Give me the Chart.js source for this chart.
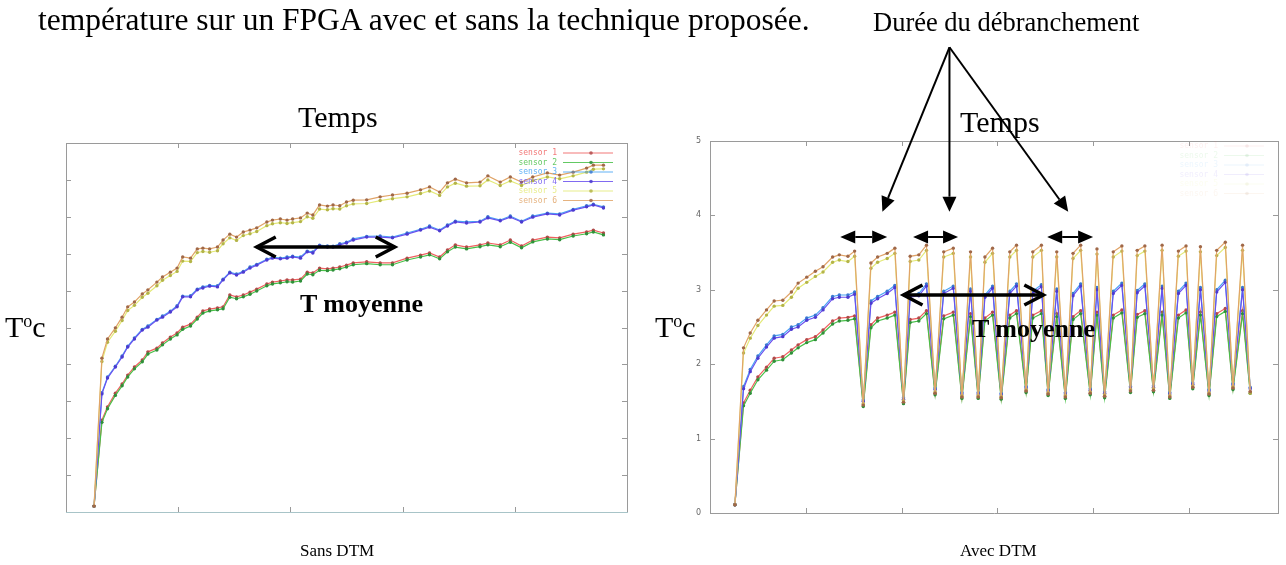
<!DOCTYPE html>
<html>
<head>
<meta charset="utf-8">
<script src="https://cdn.jsdelivr.net/npm/chart.js@4.4.1/dist/chart.umd.min.js"></script>
<style>
  body { margin: 0; background: #fff; width: 1286px; height: 565px; overflow: hidden; position: relative;
         font-family: "Liberation Serif", "Times New Roman", serif; color: #000; }
  canvas { position: absolute; top: 0; filter: blur(0.4px); }
  #chartL { left: 0; }
  #chartR { left: 640px; }
  .t { position: absolute; white-space: nowrap; line-height: 1; }
  .b { font-weight: bold; }
  sup { font-size: 0.6em; vertical-align: 0.55em; line-height: 0; }
</style>
</head>
<body>
<canvas id="chartL" width="640" height="565"></canvas>
<canvas id="chartR" width="646" height="565"></canvas>

<div class="t" style="left:38px;top:4px;font-size:31.5px">température sur un FPGA avec et sans la technique proposée.</div>
<div class="t" style="left:873px;top:9px;font-size:26.5px">Durée du débranchement</div>
<div class="t" style="left:298px;top:102px;font-size:30px">Temps</div>
<div class="t" style="left:960px;top:107px;font-size:30px">Temps</div>
<div class="t" style="left:5px;top:312px;font-size:30px">T<sup>o</sup>c</div>
<div class="t" style="left:655px;top:312px;font-size:30px">T<sup>o</sup>c</div>
<div class="t b" style="left:300px;top:291px;font-size:26px">T moyenne</div>
<div class="t b" style="left:972px;top:316px;font-size:26px">T moyenne</div>
<div class="t" style="left:300px;top:542px;font-size:17px">Sans DTM</div>
<div class="t" style="left:960px;top:542px;font-size:17px">Avec DTM</div>

<script>
// ---- data: "Sans DTM" (left) ----
const timeL = [0.25,0.32,0.37,0.44,0.50,0.55,0.61,0.68,0.73,0.81,0.86,0.93,0.99,1.04,1.11,1.17,1.22,1.28,1.35,1.40,
  1.46,1.52,1.58,1.64,1.70,1.79,1.84,1.91,1.97,2.02,2.09,2.15,2.20,2.26,2.33,2.38,2.44,2.50,2.56,2.68,
  2.80,2.91,3.04,3.16,3.24,3.33,3.40,3.47,3.57,3.69,3.76,3.87,3.96,4.06,4.16,4.29,4.40,4.52,4.64,4.70,4.79];
const s1L = [0.16,2.49,2.85,3.22,3.47,3.71,3.93,4.12,4.34,4.44,4.58,4.74,4.85,5.01,5.09,5.28,5.45,5.50,5.53,5.56,
  5.88,5.83,5.88,5.96,6.04,6.18,6.23,6.26,6.29,6.29,6.31,6.50,6.48,6.61,6.59,6.61,6.64,6.69,6.75,6.78,
  6.75,6.75,6.88,6.96,7.02,6.91,7.10,7.24,7.18,7.24,7.29,7.24,7.37,7.21,7.37,7.45,7.43,7.53,7.59,7.64,7.56];
const s2L = [0.16,2.43,2.80,3.16,3.42,3.66,3.88,4.07,4.28,4.39,4.53,4.69,4.80,4.95,5.04,5.23,5.39,5.45,5.48,5.51,
  5.82,5.78,5.83,5.90,5.99,6.13,6.18,6.21,6.24,6.23,6.26,6.45,6.43,6.55,6.54,6.56,6.59,6.64,6.70,6.73,
  6.70,6.70,6.83,6.91,6.97,6.86,7.05,7.18,7.13,7.19,7.24,7.19,7.31,7.16,7.32,7.40,7.38,7.48,7.54,7.59,7.51];
const s3L = [0.16,3.23,3.66,3.95,4.23,4.49,4.72,4.95,5.04,5.22,5.31,5.44,5.59,5.85,5.86,6.04,6.10,6.14,6.13,6.31,
  6.50,6.45,6.52,6.64,6.71,6.85,6.91,6.88,6.91,6.93,6.91,7.07,7.05,7.23,7.21,7.20,7.27,7.31,7.40,7.47,
  7.48,7.45,7.56,7.66,7.75,7.64,7.78,7.88,7.86,7.88,8.00,7.91,8.02,7.88,8.02,8.10,8.08,8.20,8.30,8.34,8.27];
const s4L = [0.16,3.20,3.63,3.93,4.20,4.47,4.69,4.93,5.01,5.20,5.28,5.42,5.56,5.83,5.83,6.02,6.07,6.12,6.10,6.29,
  6.48,6.42,6.50,6.61,6.69,6.83,6.88,6.86,6.88,6.91,6.88,7.05,7.02,7.21,7.18,7.18,7.24,7.29,7.37,7.45,
  7.45,7.43,7.53,7.64,7.72,7.62,7.75,7.86,7.83,7.86,7.97,7.89,7.99,7.86,7.99,8.08,8.05,8.18,8.27,8.32,8.24];
const s5L = [0.16,4.08,4.60,4.90,5.19,5.46,5.60,5.82,5.93,6.13,6.28,6.41,6.52,6.80,6.79,7.03,7.06,7.04,7.08,7.27,
  7.43,7.36,7.49,7.54,7.60,7.76,7.81,7.84,7.82,7.84,7.87,8.00,7.96,8.21,8.19,8.22,8.21,8.30,8.35,8.36,
  8.44,8.49,8.54,8.63,8.70,8.58,8.81,8.91,8.83,8.84,9.00,8.85,8.97,8.85,8.98,9.08,9.03,9.11,9.21,9.29,9.30];
const s6L = [0.16,4.17,4.69,4.99,5.28,5.56,5.69,5.91,6.02,6.23,6.37,6.50,6.61,6.91,6.88,7.13,7.15,7.13,7.18,7.37,
  7.53,7.45,7.59,7.64,7.70,7.86,7.91,7.94,7.91,7.94,7.97,8.10,8.05,8.32,8.29,8.32,8.30,8.40,8.45,8.46,
  8.54,8.59,8.64,8.73,8.81,8.67,8.92,9.02,8.92,8.94,9.11,8.94,9.08,8.94,9.08,9.19,9.13,9.21,9.32,9.40,9.40];

// ---- data: "Avec DTM" (right) ----
const timeR = [0.26,0.35,0.42,0.50,0.59,0.67,0.76,0.85,0.92,1.01,1.10,1.18,1.28,1.35,1.44,1.51,1.60,1.68,1.75,1.85,
  1.93,2.02,2.09,2.18,2.26,2.35,2.44,2.54,2.63,2.72,2.80,2.87,2.95,3.04,3.13,3.20,3.30,3.37,3.46,3.53,
  3.62,3.71,3.79,3.87,3.97,4.04,4.12,4.21,4.30,4.39,4.46,4.54,4.63,4.72,4.80,4.89,4.97,5.04,5.12,5.21,
  5.29,5.38,5.46,5.56,5.64];
const s1R = [0.11,1.48,1.65,1.83,1.96,2.08,2.10,2.19,2.26,2.33,2.37,2.46,2.58,2.62,2.63,2.65, 1.45, 2.53,2.62,2.66,
  2.70, 1.49, 2.60,2.62,2.72, 1.61, 2.65,2.70, 1.56, 2.68, 1.56, 2.62,2.70, 1.55, 2.66,2.72, 1.64, 2.66,2.72, 1.60,
  2.68, 1.56, 2.64,2.72, 1.61, 2.70, 1.57, 2.66,2.73, 1.64, 2.67,2.72, 1.65, 2.70, 1.56, 2.66,2.73, 1.69, 2.70, 1.60,
  2.68,2.75, 1.68, 2.72, 1.63];
const s2R = [0.11,1.44,1.61,1.79,1.92,2.04,2.06,2.15,2.22,2.29,2.33,2.42,2.54,2.58,2.59,2.61, 1.43, 2.49,2.58,2.62,
  2.66, 1.47, 2.56,2.58,2.68, 1.59, 2.61,2.66, 1.54, 2.64, 1.54, 2.58,2.66, 1.53, 2.62,2.68, 1.62, 2.62,2.68, 1.58,
  2.64, 1.54, 2.60,2.68, 1.59, 2.66, 1.55, 2.62,2.69, 1.62, 2.63,2.68, 1.63, 2.66, 1.54, 2.62,2.69, 1.67, 2.66, 1.58,
  2.64,2.71, 1.66, 2.68, 1.61];
const s3R = [0.11,1.70,1.93,2.11,2.26,2.38,2.40,2.50,2.53,2.62,2.66,2.76,2.91,2.93,2.93,2.97, 1.52, 2.85,2.91,2.98,
  3.06, 1.55, 2.93,2.95,3.08, 1.68, 2.98,3.05, 1.62, 3.01, 1.62, 2.93,3.05, 1.61, 2.98,3.08, 1.70, 2.98,3.07, 1.66,
  3.01, 1.62, 2.95,3.08, 1.67, 3.03, 1.63, 2.98,3.09, 1.70, 2.99,3.08, 1.71, 3.05, 1.62, 2.98,3.09, 1.75, 3.03, 1.66,
  3.00,3.13, 1.74, 3.03, 1.69];
const s4R = [0.11,1.67,1.90,2.08,2.23,2.35,2.37,2.47,2.50,2.59,2.63,2.73,2.88,2.90,2.90,2.94, 1.50, 2.82,2.88,2.95,
  3.03, 1.53, 2.90,2.92,3.05, 1.66, 2.95,3.02, 1.60, 2.98, 1.60, 2.90,3.02, 1.59, 2.95,3.05, 1.68, 2.95,3.04, 1.64,
  2.98, 1.60, 2.92,3.05, 1.65, 3.00, 1.61, 2.95,3.06, 1.68, 2.96,3.05, 1.69, 3.02, 1.60, 2.95,3.06, 1.73, 3.00, 1.64,
  2.97,3.10, 1.72, 3.00, 1.67];
const s5R = [0.11,2.15,2.35,2.52,2.66,2.78,2.79,2.90,3.02,3.10,3.18,3.24,3.37,3.40,3.38,3.45, 1.47, 3.29,3.37,3.42,
  3.49, 1.51, 3.38,3.40,3.53, 1.63, 3.44,3.49, 1.58, 3.44, 1.58, 3.37,3.49, 1.57, 3.44,3.53, 1.66, 3.44,3.53, 1.62,
  3.44, 1.58, 3.42,3.53, 1.63, 3.48, 1.59, 3.44,3.52, 1.66, 3.46,3.52, 1.67, 3.53, 1.58, 3.45,3.52, 1.71, 3.51, 1.62,
  3.46,3.57, 1.70, 3.53, 1.61];
const s6R = [0.11,2.22,2.42,2.59,2.73,2.85,2.86,2.97,3.09,3.17,3.25,3.31,3.44,3.47,3.45,3.52, 1.45, 3.36,3.44,3.49,
  3.56, 1.49, 3.45,3.47,3.60, 1.61, 3.51,3.56, 1.56, 3.51, 1.56, 3.44,3.56, 1.55, 3.51,3.60, 1.64, 3.51,3.60, 1.60,
  3.51, 1.56, 3.49,3.60, 1.61, 3.55, 1.57, 3.51,3.59, 1.64, 3.53,3.59, 1.65, 3.60, 1.56, 3.52,3.59, 1.69, 3.58, 1.60,
  3.53,3.64, 1.68, 3.60, 1.63];

const sensorNames = ['sensor 1', 'sensor 2', 'sensor 3', 'sensor 4', 'sensor 5', 'sensor 6'];

// styles (kept apart from the data)
const lineColors = ['#f06060', '#48c048', '#48a4f4', '#6a50ee', '#e4ea78', '#e0a468'];
const dotColors  = ['#b04a4a', '#2f8f3a', '#3a78d0', '#4c3ad0', '#b4b448', '#a06848'];

function sets(time, series) {
  return series.map((vals, i) => ({
    label: sensorNames[i],
    data: time.map((t, k) => ({ x: t, y: vals[k] })),
    borderColor: lineColors[i],
    backgroundColor: lineColors[i],
    pointBackgroundColor: dotColors[i],
    pointBorderWidth: 0,
    pointRadius: 1.7,
    borderWidth: 1.2,
    tension: 0,
    order: 6 - i
  }));
}

// gnuplot-like frame with inward ticks on all four sides
const framePlugin = {
  id: 'frame',
  afterDatasetsDraw(chart, args, o) {
    const { ctx, chartArea: a, scales: { x, y } } = chart;
    ctx.save();
    ctx.lineWidth = 1;
    ctx.strokeStyle = o.color;
    ctx.beginPath();
    ctx.moveTo(a.left + 0.5, a.bottom + 0.5); ctx.lineTo(a.left + 0.5, a.top + 0.5);
    ctx.lineTo(a.right + 0.5, a.top + 0.5); ctx.lineTo(a.right + 0.5, a.bottom + 0.5);
    x.ticks.forEach(t => {
      const px = Math.round(x.getPixelForValue(t.value)) + 0.5;
      ctx.moveTo(px, a.top); ctx.lineTo(px, a.top + o.len);
      ctx.moveTo(px, a.bottom); ctx.lineTo(px, a.bottom - o.len);
    });
    y.ticks.forEach(t => {
      const py = Math.round(y.getPixelForValue(t.value)) + 0.5;
      ctx.moveTo(a.left, py); ctx.lineTo(a.left + o.len, py);
      ctx.moveTo(a.right, py); ctx.lineTo(a.right - o.len, py);
    });
    ctx.stroke();
    ctx.strokeStyle = o.bottomColor;
    ctx.beginPath();
    ctx.moveTo(a.left, a.bottom + 0.5); ctx.lineTo(a.right + 1, a.bottom + 0.5);
    ctx.stroke();
    ctx.restore();
  }
};

// key in the top right corner: text, then a sample line with a point
const keyPlugin = {
  id: 'key',
  afterDatasetsDraw(chart, args, o) {
    const { ctx, chartArea: a } = chart;
    ctx.save();
    ctx.globalAlpha = o.alpha;
    ctx.font = '8px "DejaVu Sans Mono"';
    ctx.textAlign = 'right';
    ctx.textBaseline = 'middle';
    const x2 = a.right - o.right, x1 = x2 - o.len;
    chart.data.datasets.forEach((ds, i) => {
      const yy = a.top + o.top + i * o.row;
      ctx.fillStyle = ds.borderColor;
      ctx.fillText(ds.label, x1 - 6, yy);
      ctx.strokeStyle = ds.borderColor;
      ctx.lineWidth = 1.2;
      ctx.beginPath(); ctx.moveTo(x1, yy); ctx.lineTo(x2, yy); ctx.stroke();
      ctx.fillStyle = ds.pointBackgroundColor;
      ctx.beginPath(); ctx.arc((x1 + x2) / 2 + 3, yy, 1.8, 0, Math.PI * 2); ctx.fill();
    });
    ctx.restore();
  }
};

// annotation arrows, placed in data coordinates
function head(ctx, tip, from, len, half, open) {
  const dx = tip[0] - from[0], dy = tip[1] - from[1];
  const d = Math.hypot(dx, dy), ux = dx / d, uy = dy / d;
  const bx = tip[0] - ux * len, by = tip[1] - uy * len;
  ctx.beginPath();
  if (open) {
    ctx.moveTo(bx - uy * half, by + ux * half); ctx.lineTo(tip[0], tip[1]); ctx.lineTo(bx + uy * half, by - ux * half);
    ctx.stroke();
  } else {
    ctx.moveTo(tip[0], tip[1]); ctx.lineTo(bx - uy * half, by + ux * half); ctx.lineTo(bx + uy * half, by - ux * half);
    ctx.closePath(); ctx.fill();
  }
  return [bx, by];
}
const arrowPlugin = {
  id: 'arrows',
  afterDraw(chart, args, o) {
    const { ctx, scales: { x, y } } = chart;
    ctx.save();
    ctx.strokeStyle = '#000'; ctx.fillStyle = '#000';
    ctx.lineJoin = 'miter'; ctx.lineCap = 'butt';
    (o.items || []).forEach(it => {
      const p = [x.getPixelForValue(it.from[0]), y.getPixelForValue(it.from[1])];
      const q = [x.getPixelForValue(it.to[0]), y.getPixelForValue(it.to[1])];
      ctx.lineWidth = it.width;
      const qb = head(ctx, q, p, it.len, it.half, it.open);
      const pb = it.both ? head(ctx, p, q, it.len, it.half, it.open) : p;
      ctx.beginPath();
      ctx.moveTo(it.open || !it.both ? p[0] : pb[0], it.open || !it.both ? p[1] : pb[1]);
      ctx.lineTo(it.open ? q[0] : qb[0], it.open ? q[1] : qb[1]);
      ctx.stroke();
    });
    ctx.restore();
  }
};

const hidden = { display: false };

new Chart(document.getElementById('chartL'), {
  type: 'line',
  data: { datasets: sets(timeL, [s1L, s2L, s3L, s4L, s5L, s6L]) },
  options: {
    responsive: false, animation: false, devicePixelRatio: 1,
    layout: { padding: { left: 66, right: 13, top: 143, bottom: 53 } },
    events: [],
    plugins: {
      legend: hidden, tooltip: { enabled: false },
      frame: { color: '#9a9a9a', bottomColor: '#a8c4c8', len: 5 },
      key: { alpha: 0.85, top: 10, row: 9.5, right: 14, len: 50 },
      arrows: { items: [
        { from: [1.70, 7.18], to: [2.93, 7.18], width: 3.5, len: 19, half: 10, open: true, both: true }
      ] }
    },
    scales: {
      x: { type: 'linear', min: 0, max: 5, ticks: { stepSize: 1, display: false }, grid: hidden, border: hidden,
           afterFit: s => { s.height = 0; } },
      y: { type: 'linear', min: 0, max: 10, ticks: { stepSize: 1, display: false }, grid: hidden, border: hidden,
           afterFit: s => { s.width = 0; } }
    }
  },
  plugins: [framePlugin, keyPlugin, arrowPlugin]
});

new Chart(document.getElementById('chartR'), {
  type: 'line',
  data: { datasets: sets(timeR, [s1R, s2R, s3R, s4R, s5R, s6R]) },
  options: {
    responsive: false, animation: false, devicePixelRatio: 1,
    layout: { padding: { left: 50, right: 8, top: 141, bottom: 52 } },
    events: [],
    plugins: {
      legend: hidden, tooltip: { enabled: false },
      frame: { color: '#9a9a9a', bottomColor: '#9a9a9a', len: 5 },
      key: { alpha: 0.1, top: 5, row: 9.5, right: 14, len: 40 },
      arrows: { items: [
        { from: [2.50, 6.26], to: [1.80, 4.05], width: 2, len: 15, half: 7, open: false, both: false },
        { from: [2.50, 6.26], to: [2.50, 4.05], width: 2, len: 15, half: 7, open: false, both: false },
        { from: [2.50, 6.26], to: [3.74, 4.05], width: 2, len: 15, half: 7, open: false, both: false },
        { from: [1.36, 3.71], to: [1.85, 3.71], width: 2, len: 15, half: 6.5, open: false, both: true },
        { from: [2.12, 3.71], to: [2.59, 3.71], width: 2, len: 15, half: 6.5, open: false, both: true },
        { from: [3.52, 3.71], to: [4.00, 3.71], width: 2, len: 15, half: 6.5, open: false, both: true },
        { from: [2.02, 2.93], to: [3.48, 2.93], width: 3.5, len: 19, half: 10, open: true, both: true }
      ] }
    },
    scales: {
      x: { type: 'linear', min: 0, max: 5.93, ticks: { stepSize: 1, display: false }, grid: hidden, border: hidden,
           afterFit: s => { s.height = 0; } },
      y: { type: 'linear', min: 0, max: 5,
           ticks: { stepSize: 1, display: true, color: '#666', padding: 9, font: { family: 'DejaVu Sans', size: 8 } },
           grid: { display: false, drawTicks: false }, border: hidden,
           afterFit: s => { s.width = 20; } }
    }
  },
  plugins: [framePlugin, keyPlugin, arrowPlugin]
});
</script>
</body>
</html>
